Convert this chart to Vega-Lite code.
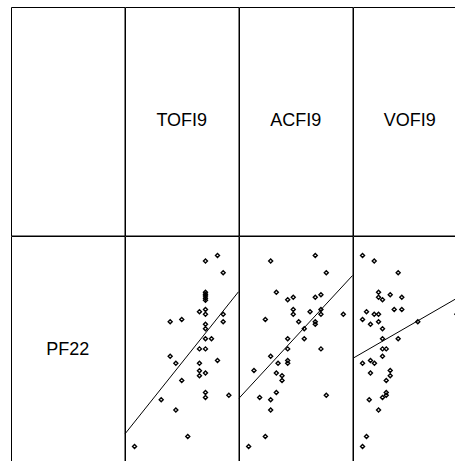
{
  "$schema": "https://vega.github.io/schema/vega-lite/v6.json",
  "background": "white",
  "padding": {"left": 10, "top": 6, "right": 0, "bottom": 0},
  "bounds": "flush",
  "columns": 4,
  "spacing": 0,
  "config": {
    "view": {"stroke": "black", "strokeWidth": 1, "fill": "white"},
    "text": {"font": "Liberation Sans", "fontSize": 18, "color": "black"}
  },
  "datasets": {
    "points": [
      {"var": "TOFI9", "value": 70.9, "PF22": 89.1}, {"var": "TOFI9", "value": 81.5, "PF22": 91.5}, {"var": "TOFI9", "value": 86.5, "PF22": 83.9},
      {"var": "TOFI9", "value": 70.9, "PF22": 75.4}, {"var": "TOFI9", "value": 70.9, "PF22": 74.5}, {"var": "TOFI9", "value": 70.9, "PF22": 73.7},
      {"var": "TOFI9", "value": 70.9, "PF22": 72.8}, {"var": "TOFI9", "value": 70.9, "PF22": 71.9}, {"var": "TOFI9", "value": 65.6, "PF22": 66.8},
      {"var": "TOFI9", "value": 70.9, "PF22": 67.8}, {"var": "TOFI9", "value": 70.9, "PF22": 65.8}, {"var": "TOFI9", "value": 86.5, "PF22": 65.8},
      {"var": "TOFI9", "value": 39.8, "PF22": 62.5}, {"var": "TOFI9", "value": 50.0, "PF22": 63.5}, {"var": "TOFI9", "value": 86.5, "PF22": 62.5},
      {"var": "TOFI9", "value": 70.9, "PF22": 61.4}, {"var": "TOFI9", "value": 70.9, "PF22": 59.4}, {"var": "TOFI9", "value": 70.9, "PF22": 55.0},
      {"var": "TOFI9", "value": 76.2, "PF22": 55.0}, {"var": "TOFI9", "value": 65.6, "PF22": 50.6}, {"var": "TOFI9", "value": 70.9, "PF22": 50.6},
      {"var": "TOFI9", "value": 39.8, "PF22": 47.4}, {"var": "TOFI9", "value": 44.8, "PF22": 44.3}, {"var": "TOFI9", "value": 65.6, "PF22": 44.3},
      {"var": "TOFI9", "value": 81.5, "PF22": 45.5}, {"var": "TOFI9", "value": 65.6, "PF22": 41.0}, {"var": "TOFI9", "value": 65.6, "PF22": 38.8},
      {"var": "TOFI9", "value": 70.9, "PF22": 40.0}, {"var": "TOFI9", "value": 50.0, "PF22": 36.8}, {"var": "TOFI9", "value": 70.9, "PF22": 31.5},
      {"var": "TOFI9", "value": 70.9, "PF22": 29.3}, {"var": "TOFI9", "value": 91.5, "PF22": 30.3}, {"var": "TOFI9", "value": 31.9, "PF22": 28.3},
      {"var": "TOFI9", "value": 44.8, "PF22": 23.9}, {"var": "TOFI9", "value": 55.3, "PF22": 12.3}, {"var": "TOFI9", "value": 8.4, "PF22": 7.9},

      {"var": "ACFI9", "value": 27.9, "PF22": 89.1}, {"var": "ACFI9", "value": 67.2, "PF22": 91.5}, {"var": "ACFI9", "value": 76.9, "PF22": 83.9},
      {"var": "ACFI9", "value": 32.9, "PF22": 75.4}, {"var": "ACFI9", "value": 42.9, "PF22": 72.1}, {"var": "ACFI9", "value": 47.8, "PF22": 73.2},
      {"var": "ACFI9", "value": 67.2, "PF22": 73.2}, {"var": "ACFI9", "value": 72.2, "PF22": 74.3}, {"var": "ACFI9", "value": 47.8, "PF22": 67.8},
      {"var": "ACFI9", "value": 47.8, "PF22": 65.8}, {"var": "ACFI9", "value": 62.6, "PF22": 66.8}, {"var": "ACFI9", "value": 72.2, "PF22": 67.8},
      {"var": "ACFI9", "value": 72.2, "PF22": 65.8}, {"var": "ACFI9", "value": 91.9, "PF22": 65.8}, {"var": "ACFI9", "value": 23.2, "PF22": 63.5},
      {"var": "ACFI9", "value": 52.6, "PF22": 62.5}, {"var": "ACFI9", "value": 67.2, "PF22": 62.5}, {"var": "ACFI9", "value": 67.2, "PF22": 61.4},
      {"var": "ACFI9", "value": 57.5, "PF22": 59.4}, {"var": "ACFI9", "value": 42.9, "PF22": 55.0}, {"var": "ACFI9", "value": 57.5, "PF22": 55.0},
      {"var": "ACFI9", "value": 42.9, "PF22": 50.6}, {"var": "ACFI9", "value": 72.2, "PF22": 50.6}, {"var": "ACFI9", "value": 27.9, "PF22": 47.4},
      {"var": "ACFI9", "value": 42.9, "PF22": 45.5}, {"var": "ACFI9", "value": 42.9, "PF22": 44.3}, {"var": "ACFI9", "value": 34.4, "PF22": 44.3},
      {"var": "ACFI9", "value": 13.2, "PF22": 41.1}, {"var": "ACFI9", "value": 32.9, "PF22": 40.0}, {"var": "ACFI9", "value": 37.9, "PF22": 38.8},
      {"var": "ACFI9", "value": 37.9, "PF22": 36.8}, {"var": "ACFI9", "value": 32.9, "PF22": 31.5}, {"var": "ACFI9", "value": 18.2, "PF22": 29.3},
      {"var": "ACFI9", "value": 27.9, "PF22": 28.3}, {"var": "ACFI9", "value": 76.9, "PF22": 30.3}, {"var": "ACFI9", "value": 27.9, "PF22": 23.9},
      {"var": "ACFI9", "value": 23.2, "PF22": 12.3}, {"var": "ACFI9", "value": 8.5, "PF22": 7.9},

      {"var": "VOFI9", "value": 8.4, "PF22": 91.5}, {"var": "VOFI9", "value": 18.7, "PF22": 89.1}, {"var": "VOFI9", "value": 39.8, "PF22": 83.9},
      {"var": "VOFI9", "value": 22.5, "PF22": 75.4}, {"var": "VOFI9", "value": 22.5, "PF22": 73.2}, {"var": "VOFI9", "value": 26.0, "PF22": 72.1},
      {"var": "VOFI9", "value": 32.8, "PF22": 74.3}, {"var": "VOFI9", "value": 43.0, "PF22": 73.2}, {"var": "VOFI9", "value": 36.3, "PF22": 67.8},
      {"var": "VOFI9", "value": 43.0, "PF22": 67.8}, {"var": "VOFI9", "value": 11.9, "PF22": 66.8}, {"var": "VOFI9", "value": 18.7, "PF22": 65.8},
      {"var": "VOFI9", "value": 22.5, "PF22": 65.8}, {"var": "VOFI9", "value": 8.4, "PF22": 63.5}, {"var": "VOFI9", "value": 15.4, "PF22": 61.4},
      {"var": "VOFI9", "value": 22.5, "PF22": 62.5}, {"var": "VOFI9", "value": 57.1, "PF22": 62.5}, {"var": "VOFI9", "value": 26.0, "PF22": 59.4},
      {"var": "VOFI9", "value": 26.0, "PF22": 55.0}, {"var": "VOFI9", "value": 39.8, "PF22": 55.0}, {"var": "VOFI9", "value": 26.0, "PF22": 50.6},
      {"var": "VOFI9", "value": 29.3, "PF22": 50.6}, {"var": "VOFI9", "value": 26.0, "PF22": 47.4}, {"var": "VOFI9", "value": 15.4, "PF22": 45.5},
      {"var": "VOFI9", "value": 18.9, "PF22": 44.3}, {"var": "VOFI9", "value": 8.4, "PF22": 44.3}, {"var": "VOFI9", "value": 32.8, "PF22": 41.1},
      {"var": "VOFI9", "value": 15.4, "PF22": 40.0}, {"var": "VOFI9", "value": 32.8, "PF22": 38.8}, {"var": "VOFI9", "value": 29.3, "PF22": 36.8},
      {"var": "VOFI9", "value": 29.3, "PF22": 31.5}, {"var": "VOFI9", "value": 29.3, "PF22": 30.3}, {"var": "VOFI9", "value": 26.0, "PF22": 29.3},
      {"var": "VOFI9", "value": 14.3, "PF22": 28.3}, {"var": "VOFI9", "value": 22.5, "PF22": 23.9}, {"var": "VOFI9", "value": 11.9, "PF22": 12.3},
      {"var": "VOFI9", "value": 8.4, "PF22": 7.9}, {"var": "VOFI9", "value": 91.5, "PF22": 65.8}
    ],
    "fits": [
      {"var": "TOFI9", "value": 0, "PF22": 13.4}, {"var": "TOFI9", "value": 100, "PF22": 75.6},
      {"var": "ACFI9", "value": 0, "PF22": 29.0}, {"var": "ACFI9", "value": 100, "PF22": 82.7},
      {"var": "VOFI9", "value": 0, "PF22": 46.5}, {"var": "VOFI9", "value": 100, "PF22": 75.2}
    ],
    "labels": [
      {"cell": "r0c0", "label": ""},
      {"cell": "r0c1", "label": "TOFI9"},
      {"cell": "r0c2", "label": "ACFI9"},
      {"cell": "r0c3", "label": "VOFI9"},
      {"cell": "r1c0", "label": "PF22"}
    ]
  },
  "concat": [
    {"width": 113.5, "height": 228.5, "data": {"name": "labels"}, "transform": [{"filter": "datum.cell === 'r0c0'"}], "mark": "text",
     "encoding": {"text": {"field": "label"}, "x": {"datum": 50, "type": "quantitative", "scale": {"domain": [0, 100]}, "axis": null}, "y": {"datum": 50, "type": "quantitative", "scale": {"domain": [0, 100]}, "axis": null}}},
    {"width": 113.5, "height": 228.5, "data": {"name": "labels"}, "transform": [{"filter": "datum.cell === 'r0c1'"}], "mark": "text",
     "encoding": {"text": {"field": "label"}, "x": {"datum": 50, "type": "quantitative", "scale": {"domain": [0, 100]}, "axis": null}, "y": {"datum": 50, "type": "quantitative", "scale": {"domain": [0, 100]}, "axis": null}}},
    {"width": 113.5, "height": 228.5, "data": {"name": "labels"}, "transform": [{"filter": "datum.cell === 'r0c2'"}], "mark": "text",
     "encoding": {"text": {"field": "label"}, "x": {"datum": 50, "type": "quantitative", "scale": {"domain": [0, 100]}, "axis": null}, "y": {"datum": 50, "type": "quantitative", "scale": {"domain": [0, 100]}, "axis": null}}},
    {"width": 113.5, "height": 228.5, "data": {"name": "labels"}, "transform": [{"filter": "datum.cell === 'r0c3'"}], "mark": "text",
     "encoding": {"text": {"field": "label"}, "x": {"datum": 50, "type": "quantitative", "scale": {"domain": [0, 100]}, "axis": null}, "y": {"datum": 50, "type": "quantitative", "scale": {"domain": [0, 100]}, "axis": null}}},
    {"width": 113.5, "height": 228.5, "data": {"name": "labels"}, "transform": [{"filter": "datum.cell === 'r1c0'"}], "mark": "text",
     "encoding": {"text": {"field": "label"}, "x": {"datum": 50, "type": "quantitative", "scale": {"domain": [0, 100]}, "axis": null}, "y": {"datum": 50, "type": "quantitative", "scale": {"domain": [0, 100]}, "axis": null}}},
    {
      "width": 113.5, "height": 228.5,
      "layer": [
        {"data": {"name": "points"}, "transform": [{"filter": "datum.var === 'TOFI9'"}],
         "mark": {"type": "point", "shape": "diamond", "size": 16, "filled": false, "stroke": "black", "strokeWidth": 1.4, "opacity": 1},
         "encoding": {"x": {"field": "value", "type": "quantitative", "scale": {"domain": [0, 100], "nice": false}, "axis": null},
                      "y": {"field": "PF22", "type": "quantitative", "scale": {"domain": [0, 100], "nice": false}, "axis": null}}},
        {"data": {"name": "fits"}, "transform": [{"filter": "datum.var === 'TOFI9'"}],
         "mark": {"type": "line", "color": "black", "strokeWidth": 1},
         "encoding": {"x": {"field": "value", "type": "quantitative", "scale": {"domain": [0, 100], "nice": false}, "axis": null},
                      "y": {"field": "PF22", "type": "quantitative", "scale": {"domain": [0, 100], "nice": false}, "axis": null}}}
      ]
    },
    {
      "width": 113.5, "height": 228.5,
      "layer": [
        {"data": {"name": "points"}, "transform": [{"filter": "datum.var === 'ACFI9'"}],
         "mark": {"type": "point", "shape": "diamond", "size": 16, "filled": false, "stroke": "black", "strokeWidth": 1.4, "opacity": 1},
         "encoding": {"x": {"field": "value", "type": "quantitative", "scale": {"domain": [0, 100], "nice": false}, "axis": null},
                      "y": {"field": "PF22", "type": "quantitative", "scale": {"domain": [0, 100], "nice": false}, "axis": null}}},
        {"data": {"name": "fits"}, "transform": [{"filter": "datum.var === 'ACFI9'"}],
         "mark": {"type": "line", "color": "black", "strokeWidth": 1},
         "encoding": {"x": {"field": "value", "type": "quantitative", "scale": {"domain": [0, 100], "nice": false}, "axis": null},
                      "y": {"field": "PF22", "type": "quantitative", "scale": {"domain": [0, 100], "nice": false}, "axis": null}}}
      ]
    },
    {
      "width": 113.5, "height": 228.5,
      "layer": [
        {"data": {"name": "points"}, "transform": [{"filter": "datum.var === 'VOFI9'"}],
         "mark": {"type": "point", "shape": "diamond", "size": 16, "filled": false, "stroke": "black", "strokeWidth": 1.4, "opacity": 1},
         "encoding": {"x": {"field": "value", "type": "quantitative", "scale": {"domain": [0, 100], "nice": false}, "axis": null},
                      "y": {"field": "PF22", "type": "quantitative", "scale": {"domain": [0, 100], "nice": false}, "axis": null}}},
        {"data": {"name": "fits"}, "transform": [{"filter": "datum.var === 'VOFI9'"}],
         "mark": {"type": "line", "color": "black", "strokeWidth": 1},
         "encoding": {"x": {"field": "value", "type": "quantitative", "scale": {"domain": [0, 100], "nice": false}, "axis": null},
                      "y": {"field": "PF22", "type": "quantitative", "scale": {"domain": [0, 100], "nice": false}, "axis": null}}}
      ]
    }
  ]
}
